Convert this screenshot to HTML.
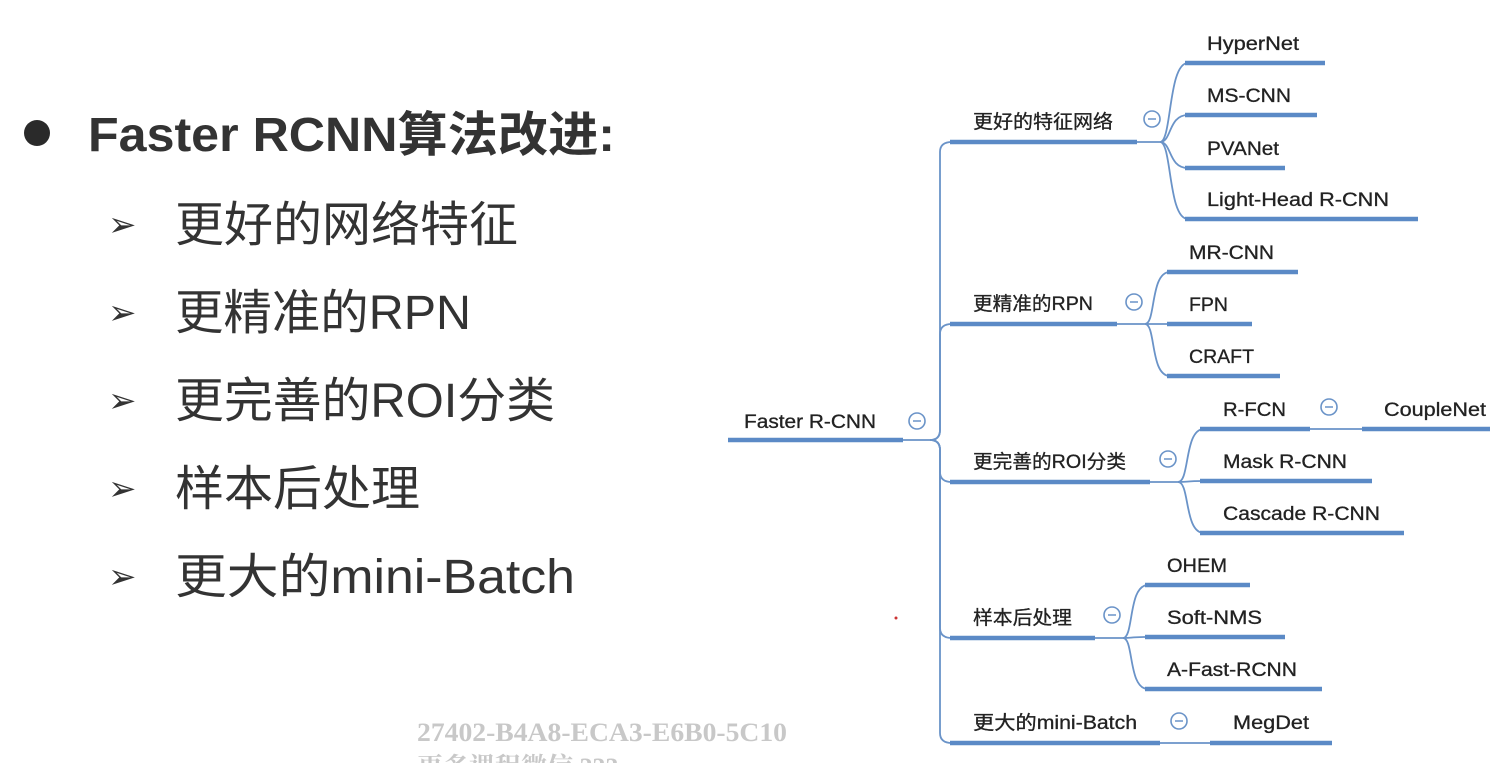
<!DOCTYPE html>
<html><head><meta charset="utf-8"><style>
html,body{margin:0;padding:0;background:#fff;width:1509px;height:763px;overflow:hidden}
svg{position:absolute;left:0;top:0}
</style></head><body>
<svg width="1509" height="763" xmlns="http://www.w3.org/2000/svg">
<g fill="#333" font-family="'Liberation Sans','Noto Sans CJK SC',sans-serif">
<circle cx="37" cy="133" r="13" fill="#2a2a2a"/>
<text x="88" y="151" font-size="48" font-weight="bold" textLength="527" lengthAdjust="spacingAndGlyphs">Faster RCNN算法改进:</text>
<g font-size="48">
<text x="108" y="236" font-size="34">➢</text><text x="175" y="241" textLength="343" lengthAdjust="spacingAndGlyphs">更好的网络特征</text>
<text x="108" y="324" font-size="34">➢</text><text x="175" y="329" textLength="296" lengthAdjust="spacingAndGlyphs">更精准的RPN</text>
<text x="108" y="412" font-size="34">➢</text><text x="175" y="417" textLength="380" lengthAdjust="spacingAndGlyphs">更完善的ROI分类</text>
<text x="108" y="500" font-size="34">➢</text><text x="175" y="505" textLength="245" lengthAdjust="spacingAndGlyphs">样本后处理</text>
<text x="108" y="588" font-size="34">➢</text><text x="175" y="593" textLength="400" lengthAdjust="spacingAndGlyphs">更大的mini-Batch</text>
</g>
</g>
<text x="417" y="741" font-family="'Liberation Serif',serif" font-weight="bold" font-size="26" fill="#c8c8c8" textLength="370" lengthAdjust="spacingAndGlyphs">27402-B4A8-ECA3-E6B0-5C10</text>
<text x="417" y="776" font-family="'Liberation Serif','Noto Serif CJK SC',serif" font-weight="bold" font-size="26" fill="#c8c8c8">更多课程微信        233</text>

<g stroke="#6a93c8" fill="none" stroke-width="1.8">
<path d="M903,440 H930 Q940,440 940,430 V152 Q940,142 952,142"/>
<path d="M930,440 Q940,440 940,430 V334 Q940,324 952,324"/>
<path d="M930,440 Q940,440 940,450 V472 Q940,482 952,482"/>
<path d="M930,440 Q940,440 940,450 V628 Q940,638 952,638"/>
<path d="M930,440 Q940,440 940,450 V733 Q940,743 952,743"/>
<path d="M1137,142 H1160 C1172,142 1168,63 1188,63"/>
<path d="M1160,142 C1172,142 1168,115 1188,115"/>
<path d="M1160,142 C1172,142 1168,168 1188,168"/>
<path d="M1160,142 C1172,142 1168,219 1188,219"/>
<path d="M1117,324 H1145 C1156,324 1150,272 1170,272"/>
<path d="M1145,324 H1170"/>
<path d="M1145,324 C1156,324 1150,376 1170,376"/>
<path d="M1150,482 H1178 C1190,482 1184,429 1204,429"/>
<path d="M1178,482 C1190,482 1184,481 1204,481"/>
<path d="M1178,482 C1190,482 1184,533 1204,533"/>
<path d="M1310,429 H1362"/>
<path d="M1095,638 H1123 C1134,638 1128,585 1148,585"/>
<path d="M1123,638 C1134,638 1128,637 1148,637"/>
<path d="M1123,638 C1134,638 1128,689 1148,689"/>
<path d="M1160,743 H1210"/>
</g>
<g stroke="#5b8ac6" stroke-width="4.5" fill="none">
<path d="M728,440 H903"/>
<path d="M950,142 H1137"/><path d="M950,324 H1117"/><path d="M950,482 H1150"/><path d="M950,638 H1095"/><path d="M950,743 H1160"/>
<path d="M1185,63 H1325"/><path d="M1185,115 H1317"/><path d="M1185,168 H1285"/><path d="M1185,219 H1418"/>
<path d="M1167,272 H1298"/><path d="M1167,324 H1252"/><path d="M1167,376 H1280"/>
<path d="M1200,429 H1310"/><path d="M1200,481 H1372"/><path d="M1200,533 H1404"/><path d="M1362,429 H1490"/>
<path d="M1145,585 H1250"/><path d="M1145,637 H1285"/><path d="M1145,689 H1322"/>
<path d="M1210,743 H1332"/>
</g>
<g fill="#fff" stroke="#6a93c8" stroke-width="1.6">
<circle cx="917" cy="421" r="8"/><circle cx="1152" cy="119" r="8"/><circle cx="1134" cy="302" r="8"/>
<circle cx="1168" cy="459" r="8"/><circle cx="1329" cy="407" r="8"/><circle cx="1112" cy="615" r="8"/><circle cx="1179" cy="721" r="8"/>
</g>
<g stroke="#6a93c8" stroke-width="1.5">
<path d="M913,421h8M1148,119h8M1130,302h8M1164,459h8M1325,407h8M1108,615h8M1175,721h8"/>
</g>
<g fill="#222" font-family="'Liberation Sans','Noto Sans CJK SC',sans-serif" font-size="19" stroke="#222" stroke-width="0.3" lengthAdjust="spacingAndGlyphs">
<text x="744" y="428" textLength="132" lengthAdjust="spacingAndGlyphs">Faster R-CNN</text>
<text x="973" y="128" font-size="19" textLength="140" lengthAdjust="spacingAndGlyphs">更好的特征网络</text>
<text x="973" y="310" font-size="19" textLength="120" lengthAdjust="spacingAndGlyphs">更精准的RPN</text>
<text x="973" y="468" font-size="19" textLength="153" lengthAdjust="spacingAndGlyphs">更完善的ROI分类</text>
<text x="973" y="624" font-size="19" textLength="99" lengthAdjust="spacingAndGlyphs">样本后处理</text>
<text x="973" y="729" font-size="19" textLength="164" lengthAdjust="spacingAndGlyphs">更大的mini-Batch</text>
<text x="1207" y="50" textLength="92" lengthAdjust="spacingAndGlyphs">HyperNet</text>
<text x="1207" y="102" textLength="84" lengthAdjust="spacingAndGlyphs">MS-CNN</text>
<text x="1207" y="155" textLength="72" lengthAdjust="spacingAndGlyphs">PVANet</text>
<text x="1207" y="206" textLength="182" lengthAdjust="spacingAndGlyphs">Light-Head R-CNN</text>
<text x="1189" y="259" textLength="85" lengthAdjust="spacingAndGlyphs">MR-CNN</text>
<text x="1189" y="311" textLength="39" lengthAdjust="spacingAndGlyphs">FPN</text>
<text x="1189" y="363" textLength="65" lengthAdjust="spacingAndGlyphs">CRAFT</text>
<text x="1223" y="416" textLength="63" lengthAdjust="spacingAndGlyphs">R-FCN</text>
<text x="1223" y="468" textLength="124" lengthAdjust="spacingAndGlyphs">Mask R-CNN</text>
<text x="1223" y="520" textLength="157" lengthAdjust="spacingAndGlyphs">Cascade R-CNN</text>
<text x="1384" y="416" textLength="102" lengthAdjust="spacingAndGlyphs">CoupleNet</text>
<text x="1167" y="572" textLength="60" lengthAdjust="spacingAndGlyphs">OHEM</text>
<text x="1167" y="624" textLength="95" lengthAdjust="spacingAndGlyphs">Soft-NMS</text>
<text x="1167" y="676" textLength="130" lengthAdjust="spacingAndGlyphs">A-Fast-RCNN</text>
<text x="1233" y="729" textLength="76" lengthAdjust="spacingAndGlyphs">MegDet</text>
</g>
<circle cx="896" cy="618" r="1.5" fill="#c33"/>
</svg>
</body></html>
